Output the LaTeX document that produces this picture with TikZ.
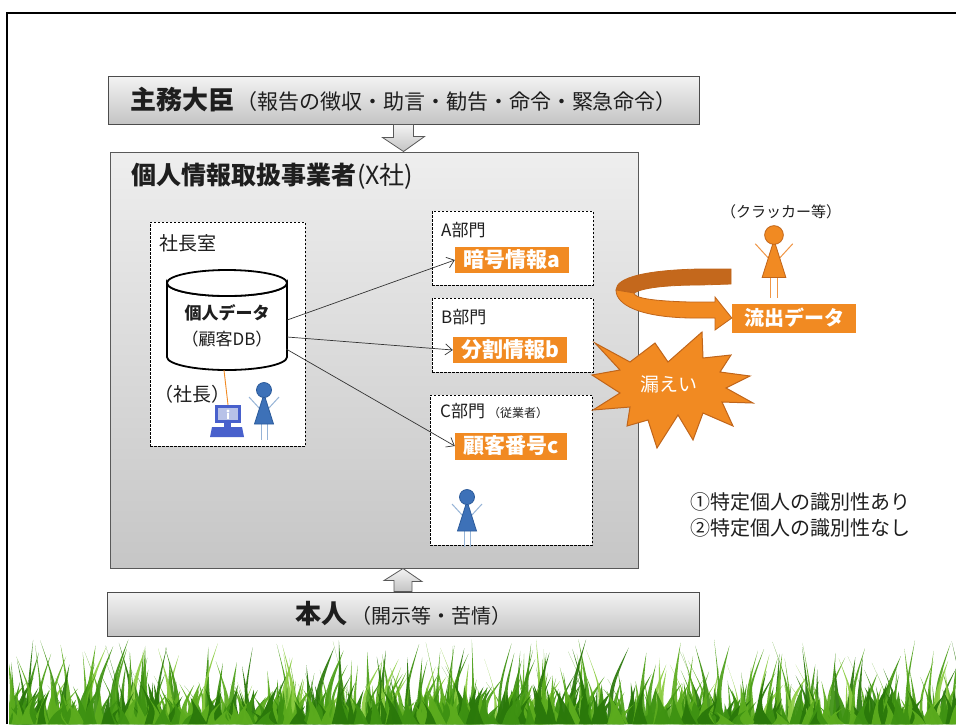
\documentclass[tikz,border=0pt]{standalone}
\usepackage{fontspec}
\setmainfont{Noto Sans CJK JP}
\usetikzlibrary{calc,arrows.meta}

\newcommand\fsz[1]{\fontsize{#1}{#1}\selectfont}

\definecolor{inktext}{RGB}{30,30,30}
\definecolor{boxtop}{RGB}{243,243,243}
\definecolor{boxbot}{RGB}{196,196,196}
\definecolor{panetop}{RGB}{238,238,238}
\definecolor{panebot}{RGB}{198,198,198}
\definecolor{orangefill}{RGB}{241,138,34}
\definecolor{orangeedge}{RGB}{192,101,26}
\definecolor{orangeback}{RGB}{196,104,28}
\definecolor{orangelimb}{RGB}{240,150,70}
\definecolor{bluefill}{RGB}{61,113,184}
\definecolor{blueedge}{RGB}{43,90,154}
\definecolor{bluelimb}{RGB}{150,180,215}
\definecolor{pcblue}{RGB}{72,96,204}
\definecolor{pcscreen}{RGB}{184,194,232}
\definecolor{grass0}{RGB}{140,205,66}
\definecolor{grass1}{RGB}{92,172,30}
\definecolor{grass2}{RGB}{62,146,18}
\definecolor{grass3}{RGB}{42,120,10}
\definecolor{grass4}{RGB}{76,160,24}

\tikzset{
  panel/.style={draw=black!70, line width=1pt, top color=boxtop, bottom color=boxbot,
    inner sep=0pt, text=inktext},
  pane/.style={draw=black!65, line width=1pt, top color=panetop, bottom color=panebot, inner sep=0pt},
  blockarr/.style={draw=black!65, line width=0.8pt, top color=boxtop, bottom color=boxbot},
  dept/.style={draw=black, dash pattern=on 2.5pt off 1.5pt, line width=1pt, fill=white, inner sep=0pt},
  tag/.style={fill=orangefill, text=white, font=\bfseries\fsz{21}, inner sep=0pt, minimum height=26pt},
  label/.style={text=inktext, inner sep=0pt},
  link/.style={draw=black!80, line width=0.7pt, -{Straight Barb[length=7pt,width=11pt]}},
  cyl/.style={draw=black, line width=1.8pt, fill=white},
  pics/figure/.style n args={3}{code={
    \draw[#3, line width=1pt] (-15,7) -- (-4,19) (15,7) -- (4,19);
    \draw[#3, line width=1pt] (-3,33) -- (-3,50) (3,33) -- (3,50);
    \filldraw[fill=#1, draw=#2, line width=0.8pt] (0,4) -- (9.5,34) -- (-9.5,34) -- cycle;
    \filldraw[fill=#1, draw=#2, line width=0.8pt] (0,0) circle[radius=7.5];
  }}
}

\begin{document}
\begin{tikzpicture}[x=1pt,y=-1pt]
\useasboundingbox (0,0) rectangle (956,724);
\fill[white] (0,0) rectangle (956,724);

% minister and company panels
\node[panel, minimum width=591pt, minimum height=48pt] (minister) at (403.5,100)
  {{\bfseries\fsz{26}主務大臣}\hspace{2pt}{\fsz{21}（報告の徴収・助言・勧告・命令・緊急命令）}};
\node[pane, minimum width=528pt, minimum height=416pt] (company) at (374,360) {};
\node[label, anchor=west] (companyname) at (131,176)
  {{\bfseries\fsz{25}個人情報取扱事業者}{\fsz{25}\hspace{1pt}(X社)}};

% block arrow from minister down to company
\draw[blockarr] ([xshift=-10pt]minister.south) -- ++(0,13) -- ++(-11,0)
  -- (minister.south |- company.north) -- ++(21,-15) -- ++(-11,0)
  -- ([xshift=10pt]minister.south) -- cycle;

% president's office
\node[dept, minimum width=155pt, minimum height=224pt] (office) at (227.5,334) {};
\node[label, anchor=west] (officename) at (159,243) {\fsz{19}社長室};

% customer database cylinder
\node[minimum width=120pt, minimum height=100pt, inner sep=0pt] (db) at (227,320) {};
\draw[cyl] (167,283) -- (167,357) arc[start angle=180, end angle=0, x radius=60, y radius=13]
  -- (287,283) arc[start angle=0, end angle=180, x radius=60, y radius=13] -- cycle;
\draw[cyl] (227,283) ellipse[x radius=60, y radius=13];
\node[label] (dbtitle) at (227,313) {\bfseries\fsz{17}個人データ};
\node[label] (dbsub) at (227,339) {\fsz{17}（顧客DB）};

% president with terminal
\node[label, anchor=west] (presname) at (154,394) {\fsz{19}（社長）};
\node[minimum width=34pt, minimum height=32pt, inner sep=0pt] (pc) at (227,421) {};
\draw[orangefill, line width=0.9pt] ($(db.south)+(-3,0)$) -- ($(pc.north)+(1,0)$);
\fill[pcblue] (215,405) rectangle (241,423);
\fill[pcscreen] (218,408) rectangle (238,420);
\fill[white] (228,411) circle[radius=1.6];
\fill[white] (226.6,413) rectangle (229.4,419);
\fill[pcblue] (224,423) rectangle (231,427);
\fill[pcblue] (212,427) -- (242,427) -- (244,437) -- (210,437) -- cycle;
\pic at (264,390) {figure={bluefill}{blueedge}{bluelimb}};

% departments
\node[dept, minimum width=161pt, minimum height=74pt] (deptA) at (512.5,248) {};
\node[dept, minimum width=161pt, minimum height=74pt] (deptB) at (512.5,335) {};
\node[dept, minimum width=162pt, minimum height=150pt] (deptC) at (511,470) {};
\node[label, anchor=west] (deptAname) at (441,230) {\fsz{17}A部門};
\node[label, anchor=west] (deptBname) at (441,317) {\fsz{17}B部門};
\node[label, anchor=west] (deptCname) at (440,411) {\fsz{17}C部門\hspace{3pt}\fsz{12}（従業者）};
\node[tag, minimum width=114pt] (tagA) at (512,260) {暗号情報a};
\node[tag, minimum width=114pt] (tagB) at (510,350) {分割情報b};
\node[tag, minimum width=112pt, minimum height=27pt] (tagC) at (511,446) {顧客番号c};
\pic at (467,497) {figure={bluefill}{blueedge}{bluelimb}};

% data flows from the database
\draw[link] (db.east) -- (tagA.west);
\draw[link] ($(db.east)+(0,17)$) -- (tagB.west);
\draw[link] ($(db.east)+(-1,29)$) -- (tagC.west);

% outside party
\node[label] (crackername) at (781,212) {\fsz{15}（クラッカー等）};
\pic[scale=1.25] at (774,235) {figure={orangefill}{orangeedge}{orangelimb}};
\node[tag, minimum width=124pt, minimum height=29pt, font=\bfseries\fsz{20}] (leakdata) at (794,318) {流出データ};

% curved arrow carrying data out
\filldraw[fill=orangeback, draw=orangeedge, line width=0.8pt]
  (731,269) -- (700,269) .. controls (648,270) and (616,277) .. (616,290)
  -- (634,293) .. controls (642,288) and (665,285) .. (700,285) -- (731,284) -- cycle;
\filldraw[fill=orangefill, draw=orangeedge, line width=0.8pt]
  (616,290) .. controls (616,305) and (640,317) .. (690,318) -- (715,318) -- (715,330)
  -- (leakdata.west) -- (715,297) -- (715,302) -- (690,302)
  .. controls (652,301) and (634,298) .. (634,293) -- cycle;

% leak burst
\filldraw[fill=orangefill, draw=orangeedge, line width=1pt]
  (595,343) -- (630,362) -- (655,343) -- (668,362) -- (702,332) -- (703,358)
  -- (731,355) -- (720,372) -- (750,376) -- (726,388) -- (753,403) -- (722,402)
  -- (733,426) -- (703,413) -- (693,440) -- (678,415) -- (657,448) -- (648,420)
  -- (627,426) -- (630,407) -- (593,410) -- (620,393) -- (592,375) -- (620,370) -- cycle;
\node[text=white, inner sep=0pt] (leak) at (669,384) {\fsz{19}漏えい};

% legend
\node[label, anchor=west, align=left, font=\fsz{20}] (notes) at (690,515)
  {①特定個人の識別性あり\\[6pt]②特定個人の識別性なし};

% data subject
\node[panel, minimum width=592pt, minimum height=44pt] (person) at (403,614)
  {{\bfseries\fsz{26}本人}\hspace{4pt}{\fsz{20}（開示等・苦情）}};
\draw[blockarr] ([xshift=-9pt]person.north) -- ++(0,-11) -- ++(-10,0)
  -- (person.north |- company.south) -- ++(19,13) -- ++(-10,0)
  -- ([xshift=9pt]person.north) -- cycle;

% grass along the bottom: tall blades behind, short dense tufts in front
\begin{scope}
  \clip (9,560) rectangle (956,724);
  \pgfmathsetseed{7}
  \foreach \i in {1,...,300}{
    \pgfmathsetmacro\gx{9+rnd*960}
    \pgfmathsetmacro\gh{35+rnd*50}
    \pgfmathsetmacro\gw{2+rnd*4}
    \pgfmathsetmacro\gl{(rnd-0.5)*36}
    \pgfmathtruncatemacro\gc{min(4,rnd*5)}
    \fill[grass\gc, fill opacity=0.92]
      (\gx-\gw,724) .. controls (\gx-\gw*0.4,724-\gh*0.5) .. (\gx+\gl,724-\gh)
      .. controls (\gx+\gw*0.2,724-\gh*0.45) .. (\gx+\gw,724) -- cycle;
  }
  \foreach \i in {1,...,420}{
    \pgfmathsetmacro\gx{9+rnd*960}
    \pgfmathsetmacro\gh{12+rnd*30}
    \pgfmathsetmacro\gw{4+rnd*6}
    \pgfmathsetmacro\gl{(rnd-0.5)*24}
    \pgfmathtruncatemacro\gc{min(3,1+rnd*3)}
    \fill[grass\gc, fill opacity=0.95]
      (\gx-\gw,724) .. controls (\gx-\gw*0.4,724-\gh*0.5) .. (\gx+\gl,724-\gh)
      .. controls (\gx+\gw*0.2,724-\gh*0.45) .. (\gx+\gw,724) -- cycle;
  }
\end{scope}

% slide frame
\draw[line width=2.5pt] (7,724) -- (7,13) -- (956,13);
\end{tikzpicture}
\end{document}
